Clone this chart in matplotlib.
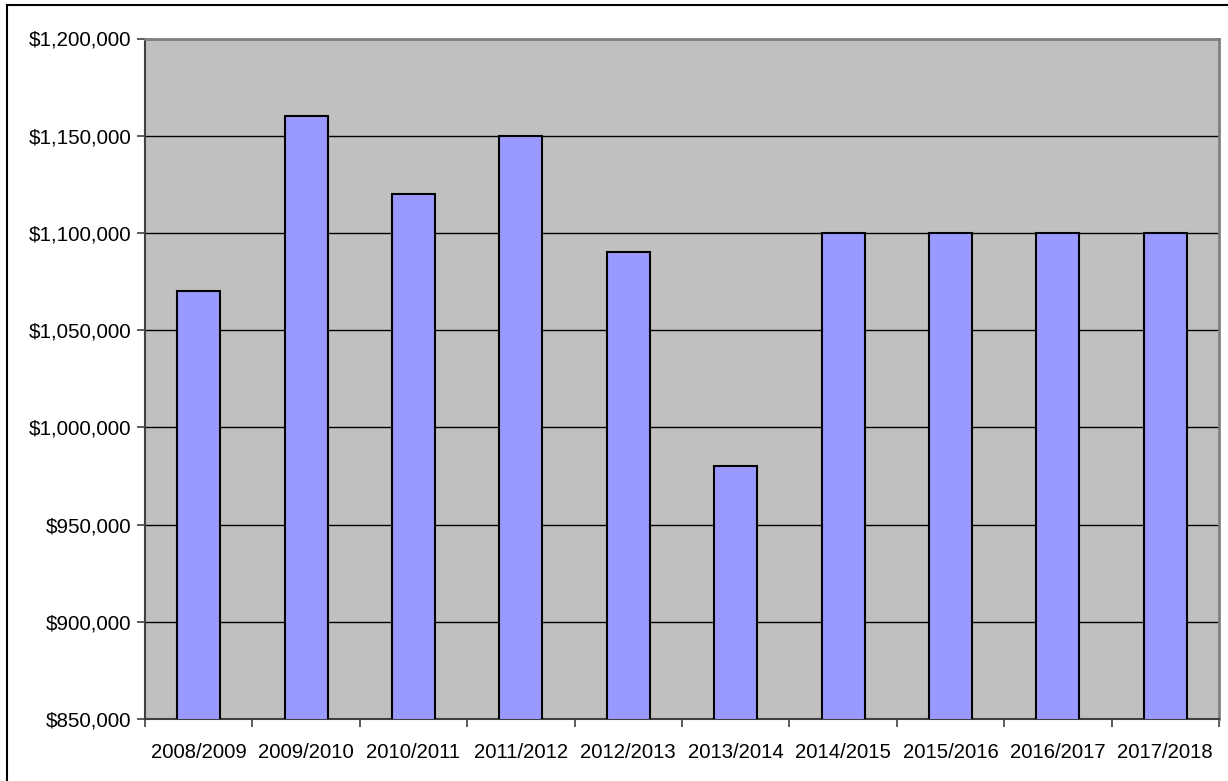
import matplotlib
matplotlib.use("Agg")
import matplotlib.pyplot as plt
from matplotlib.lines import Line2D
from matplotlib.ticker import FuncFormatter, MultipleLocator

plt.rcParams['font.family'] = ['Liberation Sans', 'DejaVu Sans']

seasons = ["2008/2009", "2009/2010", "2010/2011", "2011/2012", "2012/2013",
           "2013/2014", "2014/2015", "2015/2016", "2016/2017", "2017/2018"]
amounts = [1070000, 1160000, 1120000, 1150000, 1090000,
           980000, 1100000, 1100000, 1100000, 1100000]

W, H = 1228, 781
fig = plt.figure(figsize=(W / 100, H / 100), dpi=100)

left, right, top, bottom = 145, 1219, 38.5, 719
ax = fig.add_axes([left / W, (H - bottom) / H, (right - left) / W, (bottom - top) / H])
ax.set_facecolor("#C0C0C0")

x = list(range(len(seasons)))
ax.bar(x, amounts, width=0.4, color="#9999FF", edgecolor="black", linewidth=1.5, zorder=3)

ax.set_xlim(-0.5, len(seasons) - 0.5)
ax.set_ylim(850000, 1200000)
ax.yaxis.set_major_locator(MultipleLocator(50000))
ax.yaxis.set_major_formatter(FuncFormatter(lambda v, p: f"${v:,.0f}"))
ax.grid(axis="y", color="black", linewidth=1.0, zorder=1)
ax.set_axisbelow(True)

# category labels centred under bars, ticks on category boundaries
ax.set_xticks(x)
ax.set_xticklabels(seasons, fontsize=14.6)
ax.tick_params(axis="x", which="major", length=0, pad=17)
ax.set_xticks([i - 0.5 for i in range(len(seasons) + 1)], minor=True)
ax.tick_params(axis="x", which="minor", length=6, width=1.2, color="#404040", direction="out")
ax.tick_params(axis="y", length=6, width=1.2, color="#404040", labelsize=14.9, pad=4)

for side in ("top", "right"):
    ax.spines[side].set_color("#808080")
    ax.spines[side].set_linewidth(2)
ax.spines["left"].set_color("#404040")
ax.spines["left"].set_linewidth(1.5)
ax.spines["bottom"].set_color("#404040")
ax.spines["bottom"].set_linewidth(1.5)

# chart frame (left and top edges)
fig.add_artist(Line2D([7 / W, 7 / W], [0, 1 - 5 / H], transform=fig.transFigure,
                      color="black", linewidth=1.5))
fig.add_artist(Line2D([7 / W, 1], [1 - 5 / H, 1 - 5 / H], transform=fig.transFigure,
                      color="black", linewidth=1.5))

fig.savefig("out.png", dpi=100)
